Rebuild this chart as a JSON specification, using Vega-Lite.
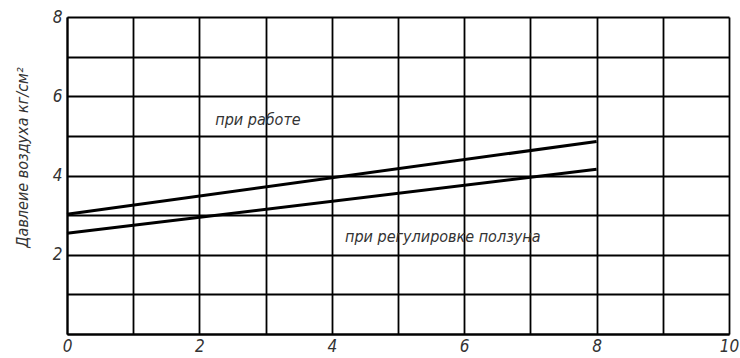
{
  "$schema": "https://vega.github.io/schema/vega-lite/v6.json",
  "width": 662,
  "height": 317,
  "autosize": {"type": "none"},
  "padding": {"left": 67, "top": 17, "right": 11, "bottom": 24},
  "background": "white",
  "config": {
    "view": {"stroke": null},
    "font": "DejaVu Sans Condensed, DejaVu Sans, sans-serif",
    "axis": {
      "grid": true,
      "gridColor": "#000000",
      "gridWidth": 1.8,
      "gridOpacity": 1,
      "domainColor": "#000000",
      "domainWidth": 2,
      "ticks": false,
      "tickCount": 30,
      "labelFont": "DejaVu Sans Condensed, DejaVu Sans, sans-serif",
      "labelFontStyle": "italic",
      "labelFontWeight": "normal",
      "labelFontSize": 17,
      "labelColor": "#333333",
      "titleFont": "DejaVu Sans Condensed, DejaVu Sans, sans-serif",
      "titleFontStyle": "italic",
      "titleFontWeight": "normal",
      "titleFontSize": 16,
      "titleColor": "#333333"
    }
  },
  "datasets": {
    "lines": [
      {"series": "при работе", "x": 0, "y": 3.02},
      {"series": "при работе", "x": 8, "y": 4.86},
      {"series": "при регулировке ползуна", "x": 0, "y": 2.54},
      {"series": "при регулировке ползуна", "x": 8, "y": 4.16}
    ],
    "labels": [
      {"text": "при работе", "x": 2.24, "y": 5.4},
      {"text": "при регулировке ползуна", "x": 4.2, "y": 2.45}
    ]
  },
  "layer": [
    {
      "data": {"name": "lines"},
      "mark": {"type": "line", "color": "#000000", "strokeWidth": 3},
      "encoding": {
        "x": {
          "field": "x", "type": "quantitative",
          "scale": {"domain": [0, 10], "nice": false, "zero": false},
          "axis": {
            "title": null,
            "values": [0, 1, 2, 3, 4, 5, 6, 7, 8, 9, 10],
            "format": "d",
            "labelExpr": "datum.value % 2 == 0 ? datum.label : ''",
            "labelPadding": 4,
            "labelFlush": false,
            "labelOverlap": false
          }
        },
        "y": {
          "field": "y", "type": "quantitative",
          "scale": {"domain": [0, 8], "nice": false, "zero": true},
          "axis": {
            "title": "Давлеие воздуха кг/см²",
            "values": [0, 1, 2, 3, 4, 5, 6, 7, 8],
            "format": "d",
            "labelExpr": "datum.value % 2 == 0 && datum.value > 0 ? datum.label : ''",
            "labelPadding": 5,
            "labelFlush": false,
            "labelOverlap": false,
            "titlePadding": 22,
            "titleY": 140
          }
        },
        "detail": {"field": "series"}
      }
    },
    {
      "data": {"name": "labels"},
      "mark": {
        "type": "text",
        "align": "left",
        "baseline": "middle",
        "font": "DejaVu Sans Condensed, DejaVu Sans, sans-serif",
        "fontStyle": "italic",
        "fontSize": 16,
        "color": "#333333"
      },
      "encoding": {
        "x": {"field": "x", "type": "quantitative"},
        "y": {"field": "y", "type": "quantitative"},
        "text": {"field": "text"}
      }
    }
  ]
}
